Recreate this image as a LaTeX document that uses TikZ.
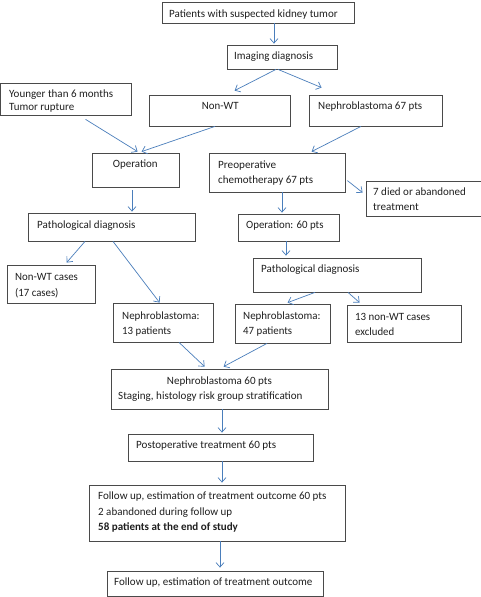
\documentclass[tikz,border=0pt]{standalone}
\usepackage{graphicx}
\usepackage{fontspec}
\setmainfont{Carlito}
\usetikzlibrary{arrows.meta,calc}
\definecolor{arrowblue}{HTML}{4A7EBB}
\definecolor{boxgray}{HTML}{4A4A4A}
\tikzset{
  boxst/.style={draw=boxgray,line width=0.8pt,rectangle,inner sep=0pt,fill=white},
  txt/.style={inner sep=0pt,anchor=base west,font=\fontsize{11.1}{13}\selectfont,text=black!88},
  arr/.style={draw=arrowblue,line width=0.7pt,-{Straight Barb[length=4.5pt,width=8pt]}}
}
\newcommand\fbx[5]{\node[boxst,minimum width={(#4-#2)*1pt},minimum height={(#5-#3)*1pt}] (#1) at ({(#2+#4)/2},{(#3+#5)/2}) {};}
\newcommand\ftx[5]{\node[txt] (#1) at (#2,#3) {\resizebox{#4pt}{\height}{#5}};}
\begin{document}
\begin{tikzpicture}[x=1pt,y=-1pt]
\useasboundingbox[fill=white] (0,0) rectangle (481,597);
% boxes
\fbx{top}{162}{2}{354}{23}
\fbx{img}{227}{45}{337}{69}
\fbx{you}{0}{83}{131}{115}
\fbx{nonwt}{149}{95}{290}{126}
\fbx{neph}{309}{95}{442}{126}
\fbx{op}{92}{153}{179}{187}
\fbx{preop}{209}{153}{345}{192}
\fbx{died}{366}{181}{481}{216}
\fbx{pathl}{28}{213}{195}{241}
\fbx{opsix}{238}{214}{339}{241}
\fbx{pathr}{253}{258}{421}{292}
\fbx{nwc}{7}{265}{95}{303}
\fbx{nthirteen}{113}{303}{213}{342}
\fbx{nfortyseven}{235}{304}{330}{343}
\fbx{excl}{347}{305}{461}{342}
\fbx{nsixty}{111}{369}{328}{409}
\fbx{postop}{128}{434}{313}{461}
\fbx{follow}{89}{485}{345}{541}
\fbx{last}{107}{571}{323}{596}
% texts
\ftx{t1}{169}{17}{168.5}{Patients with suspected kidney tumor}
\ftx{t2}{234}{59}{79}{Imaging diagnosis}
\ftx{t3a}{9}{97.5}{104}{Younger than 6 months}
\ftx{t3b}{9}{110.5}{65}{Tumor rupture}
\ftx{t4}{201.7}{109.5}{36.7}{Non-WT}
\ftx{t5}{318}{109.5}{104}{Nephroblastoma 67 pts}
\ftx{t6}{112.7}{167.5}{44.7}{Operation}
\ftx{t7a}{218}{168.5}{58}{Preoperative}
\ftx{t7b}{218}{183.5}{95}{chemotherapy 67 pts}
\ftx{t8a}{373}{195.5}{92.7}{7 died or abandoned}
\ftx{t8b}{373}{210.5}{45.7}{treatment}
\ftx{t9}{37}{228.5}{98.3}{Pathological diagnosis}
\ftx{t10}{246}{228.5}{77.3}{Operation: 60 pts}
\ftx{t11}{261}{272.5}{98.3}{Pathological diagnosis}
\ftx{t12a}{15}{280.5}{62.7}{Non-WT cases}
\ftx{t12b}{15}{296.5}{43.3}{(17 cases)}
\ftx{t13a}{122}{319.5}{77.3}{Nephroblastoma:}
\ftx{t13b}{122}{334.5}{49}{13 patients}
\ftx{t14a}{243}{319.5}{77.3}{Nephroblastoma:}
\ftx{t14b}{243}{334.5}{49}{47 patients}
\ftx{t15a}{355}{320}{75}{13 non-WT cases}
\ftx{t15b}{355}{335}{39}{excluded}
\ftx{t16a}{166.7}{384.5}{105}{Nephroblastoma 60 pts}
\ftx{t16b}{118}{399.5}{184.3}{Staging, histology risk group stratification}
\ftx{t17}{136}{448.5}{140}{Postoperative treatment 60 pts}
\ftx{t18a}{98}{499.5}{228.3}{Follow up, estimation of treatment outcome 60 pts}
\ftx{t18b}{98}{515.5}{134}{2 abandoned during follow up}
\ftx{t18c}{98}{530.5}{139.7}{\bfseries 58 patients at the end of study}
\ftx{t19}{114}{585.5}{198.3}{Follow up, estimation of treatment outcome}
% arrows
\draw[arr] (top.south -| 274,0) -- ($(img.north -| 274,0)+(0,-1)$);
\draw[arr] (img.south -| 276,0) -- ($(nonwt.north west)+(86,-4)$);
\draw[arr] (img.south -| 278,0) -- ($(neph.north west)+(13,-7)$);
\draw[arr] ($(you.south west)+(86,4)$) -- ($(op.north west)+(46,-1)$);
\draw[arr] (nonwt.south -| 215,0) -- ($(op.north west)+(50,-1)$);
\draw[arr] (neph.south -| 361,0) -- ($(preop.north west)+(103,-1)$);
\draw[arr] ($(preop.north east)+(2,28)$) -- ($(died.north west)+(-3,12)$);
\draw[arr] ($(op.south -| 132,0)+(0,3)$) -- ($(pathl.north -| 132,0)+(0,-1)$);
\draw[arr] (preop.south -| 282,0) -- ($(opsix.north -| 282,0)+(0,-1)$);
\draw[arr] (opsix.south -| 286,0) -- ($(pathr.north -| 286,0)+(0,-2)$);
\draw[arr] (pathl.south -| 85,0) -- ($(nwc.north west)+(60,-2)$);
\draw[arr] (pathl.south -| 113,0) -- ($(nthirteen.north west)+(47,0)$);
\draw[arr] (pathr.south -| 315,0) -- ($(nfortyseven.north west)+(53,-1)$);
\draw[arr] (pathr.south -| 348,0) -- ($(excl.north west)+(13,-2)$);
\draw[arr] (nthirteen.south -| 179,0) -- ($(nsixty.north west)+(94,-2)$);
\draw[arr] (nfortyseven.south -| 267,0) -- ($(nsixty.north west)+(113,-2)$);
\draw[arr] (nsixty.south -| 222,0) -- ($(postop.north -| 222,0)+(0,-1)$);
\draw[arr] (postop.south -| 222,0) -- ($(follow.north -| 222,0)+(0,-2)$);
\draw[arr] (follow.south -| 220,0) -- ($(last.north -| 220,0)+(0,-3)$);
\end{tikzpicture}
\end{document}
